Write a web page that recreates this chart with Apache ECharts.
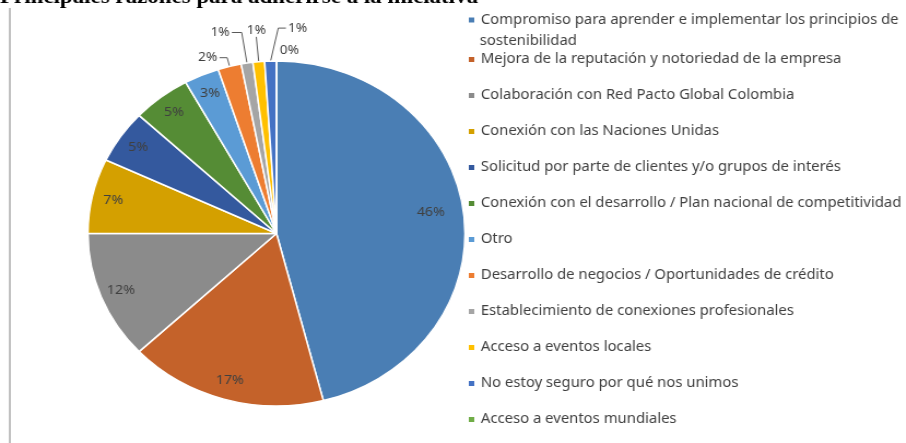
<!DOCTYPE html>
<html>
<head>
<meta charset="utf-8">
<script src="https://cdn.jsdelivr.net/npm/echarts@6/dist/echarts.min.js"></script>
<style>
  html, body { margin: 0; padding: 0; background: #fff; overflow: hidden; }
  #wrap { width: 906px; height: 443px; overflow: hidden; }
  /* the source picture is stretched sideways, so the chart is drawn narrower and widened */
  #chart { width: 829px; height: 443px; transform: scaleX(1.0928); transform-origin: 0 0; }
</style>
</head>
<body>
<div id="wrap"><div id="chart"></div></div>
<script>
var titleText = 'Principales razones para adherirse a la iniciativa';
var categories = [
  'Compromiso para aprender e implementar los principios de sostenibilidad',
  'Mejora de la reputación y notoriedad de la empresa',
  'Colaboración con Red Pacto Global Colombia',
  'Conexión con las Naciones Unidas',
  'Solicitud por parte de clientes y/o grupos de interés',
  'Conexión con el desarrollo / Plan nacional de competitividad',
  'Otro',
  'Desarrollo de negocios / Oportunidades de crédito',
  'Establecimiento de conexiones profesionales',
  'Acceso a eventos locales',
  'No estoy seguro por qué nos unimos',
  'Acceso a eventos mundiales'
];
var values = [46, 17, 12, 7, 5, 5, 3, 2, 1, 1, 1, 0];
var colors = ['#4a7eb4', '#c4622a', '#8b8b8b', '#d4a000', '#34599e', '#558c35',
              '#5b9bd5', '#ed7d31', '#a5a5a5', '#ffc000', '#4472c4', '#70ad47'];

// leader line lengths for the small slices that are labelled outside
var leaders = { 7: [9, 7], 8: [31, 9], 9: [24, 0], 10: [33, 7], 11: [11, 3] };

var cx = 253, cy = 233.5, R = 172.5;
var font = 'Noto Sans';
var firstName = categories[0];
var cut = firstName.lastIndexOf(' ');

var chart = echarts.init(document.getElementById('chart'));

var pieData = values.map(function (v, i) {
  var small = leaders[i];
  return {
    name: categories[i],
    value: v,
    itemStyle: { color: colors[i] },
    label: { show: !!small },
    labelLine: small ? {
      show: true,
      length: small[0],
      length2: small[1],
      lineStyle: { opacity: i === 11 ? 0 : 1 }
    } : { show: false }
  };
});

var ringData = values.map(function (v, i) {
  return {
    name: categories[i],
    value: v,
    label: { show: !leaders[i] }
  };
});

var legendText = { color: '#404040', fontSize: 13.6, fontFamily: font, lineHeight: 16 };

chart.setOption({
  animation: false,
  title: {
    text: titleText,
    left: 0,
    top: -13,
    padding: 0,
    textStyle: { fontFamily: 'Liberation Serif', fontWeight: 'bold', fontSize: 21, color: '#000' }
  },
  legend: [{
    orient: 'vertical',
    left: 427,
    top: 12,
    padding: 0,
    icon: 'rect',
    itemWidth: 7,
    itemHeight: 7,
    selectedMode: false,
    data: [firstName],
    formatter: function (n) { return n.slice(0, cut); },
    textStyle: legendText
  }, {
    orient: 'vertical',
    left: 427,
    top: 51.5,
    padding: 0,
    icon: 'rect',
    itemWidth: 7,
    itemHeight: 7,
    itemGap: 20,
    selectedMode: false,
    data: categories.slice(1),
    textStyle: legendText
  }],
  graphic: [{
    type: 'line',
    shape: { x1: 9, y1: 8, x2: 9, y2: 443 },
    style: { stroke: '#c0c0c0', lineWidth: 2 }
  }, {
    type: 'text',
    left: 439,
    top: 34,
    style: { text: firstName.slice(cut + 1), fill: '#404040', fontSize: 13.6, fontFamily: font }
  }],
  series: [{
    type: 'pie',
    center: [cx, cy],
    radius: [0, R],
    startAngle: 90,
    clockwise: true,
    avoidLabelOverlap: false,
    emphasis: { disabled: true },
    itemStyle: { borderColor: '#fff', borderWidth: 1.5 },
    label: {
      position: 'outside',
      formatter: '{c}%',
      color: '#404040',
      fontSize: 12.5,
      fontFamily: font,
      distanceToLabelLine: 2
    },
    labelLine: { lineStyle: { color: '#595959', width: 1 } },
    labelLayout: function (p) {
      var pts = p.labelLinePoints;
      if (!pts) return;
      if (p.dataIndex === 9) {
        return { x: pts[1][0], y: pts[1][1] - 1, align: 'center', verticalAlign: 'bottom' };
      }
      if (p.dataIndex === 10) {
        var a = pts[0], b = pts[1];
        var bx = 2 * a[0] - b[0] + 6;
        var cxp = bx + leaders[10][1];
        return {
          x: cxp + 2, y: b[1], align: 'left', verticalAlign: 'middle',
          labelLinePoints: [a, [bx, b[1]], [cxp, b[1]]]
        };
      }
      if (p.dataIndex === 11) {
        return { x: pts[1][0] + leaders[11][1], y: pts[1][1], align: 'left', verticalAlign: 'middle' };
      }
    },
    data: pieData
  }, {
    type: 'pie',
    center: [cx, cy],
    radius: [R * 0.74, R],
    startAngle: 90,
    clockwise: true,
    silent: true,
    emphasis: { disabled: true },
    itemStyle: { color: 'rgba(0,0,0,0)' },
    label: {
      position: 'inside',
      formatter: '{c}%',
      color: '#404040',
      fontSize: 13,
      fontFamily: font
    },
    labelLine: { show: false },
    labelLayout: function (p) {
      // the big slice's label sits a little nearer the centre
      if (p.dataIndex !== 0) return;
      var r = p.labelRect;
      var lx = r.x + r.width / 2, ly = r.y + r.height / 2;
      return {
        x: cx + (lx - cx) * 0.93,
        y: cy + (ly - cy) * 0.93 - 3,
        align: 'center',
        verticalAlign: 'middle'
      };
    },
    data: ringData
  }]
});
</script>
</body>
</html>
